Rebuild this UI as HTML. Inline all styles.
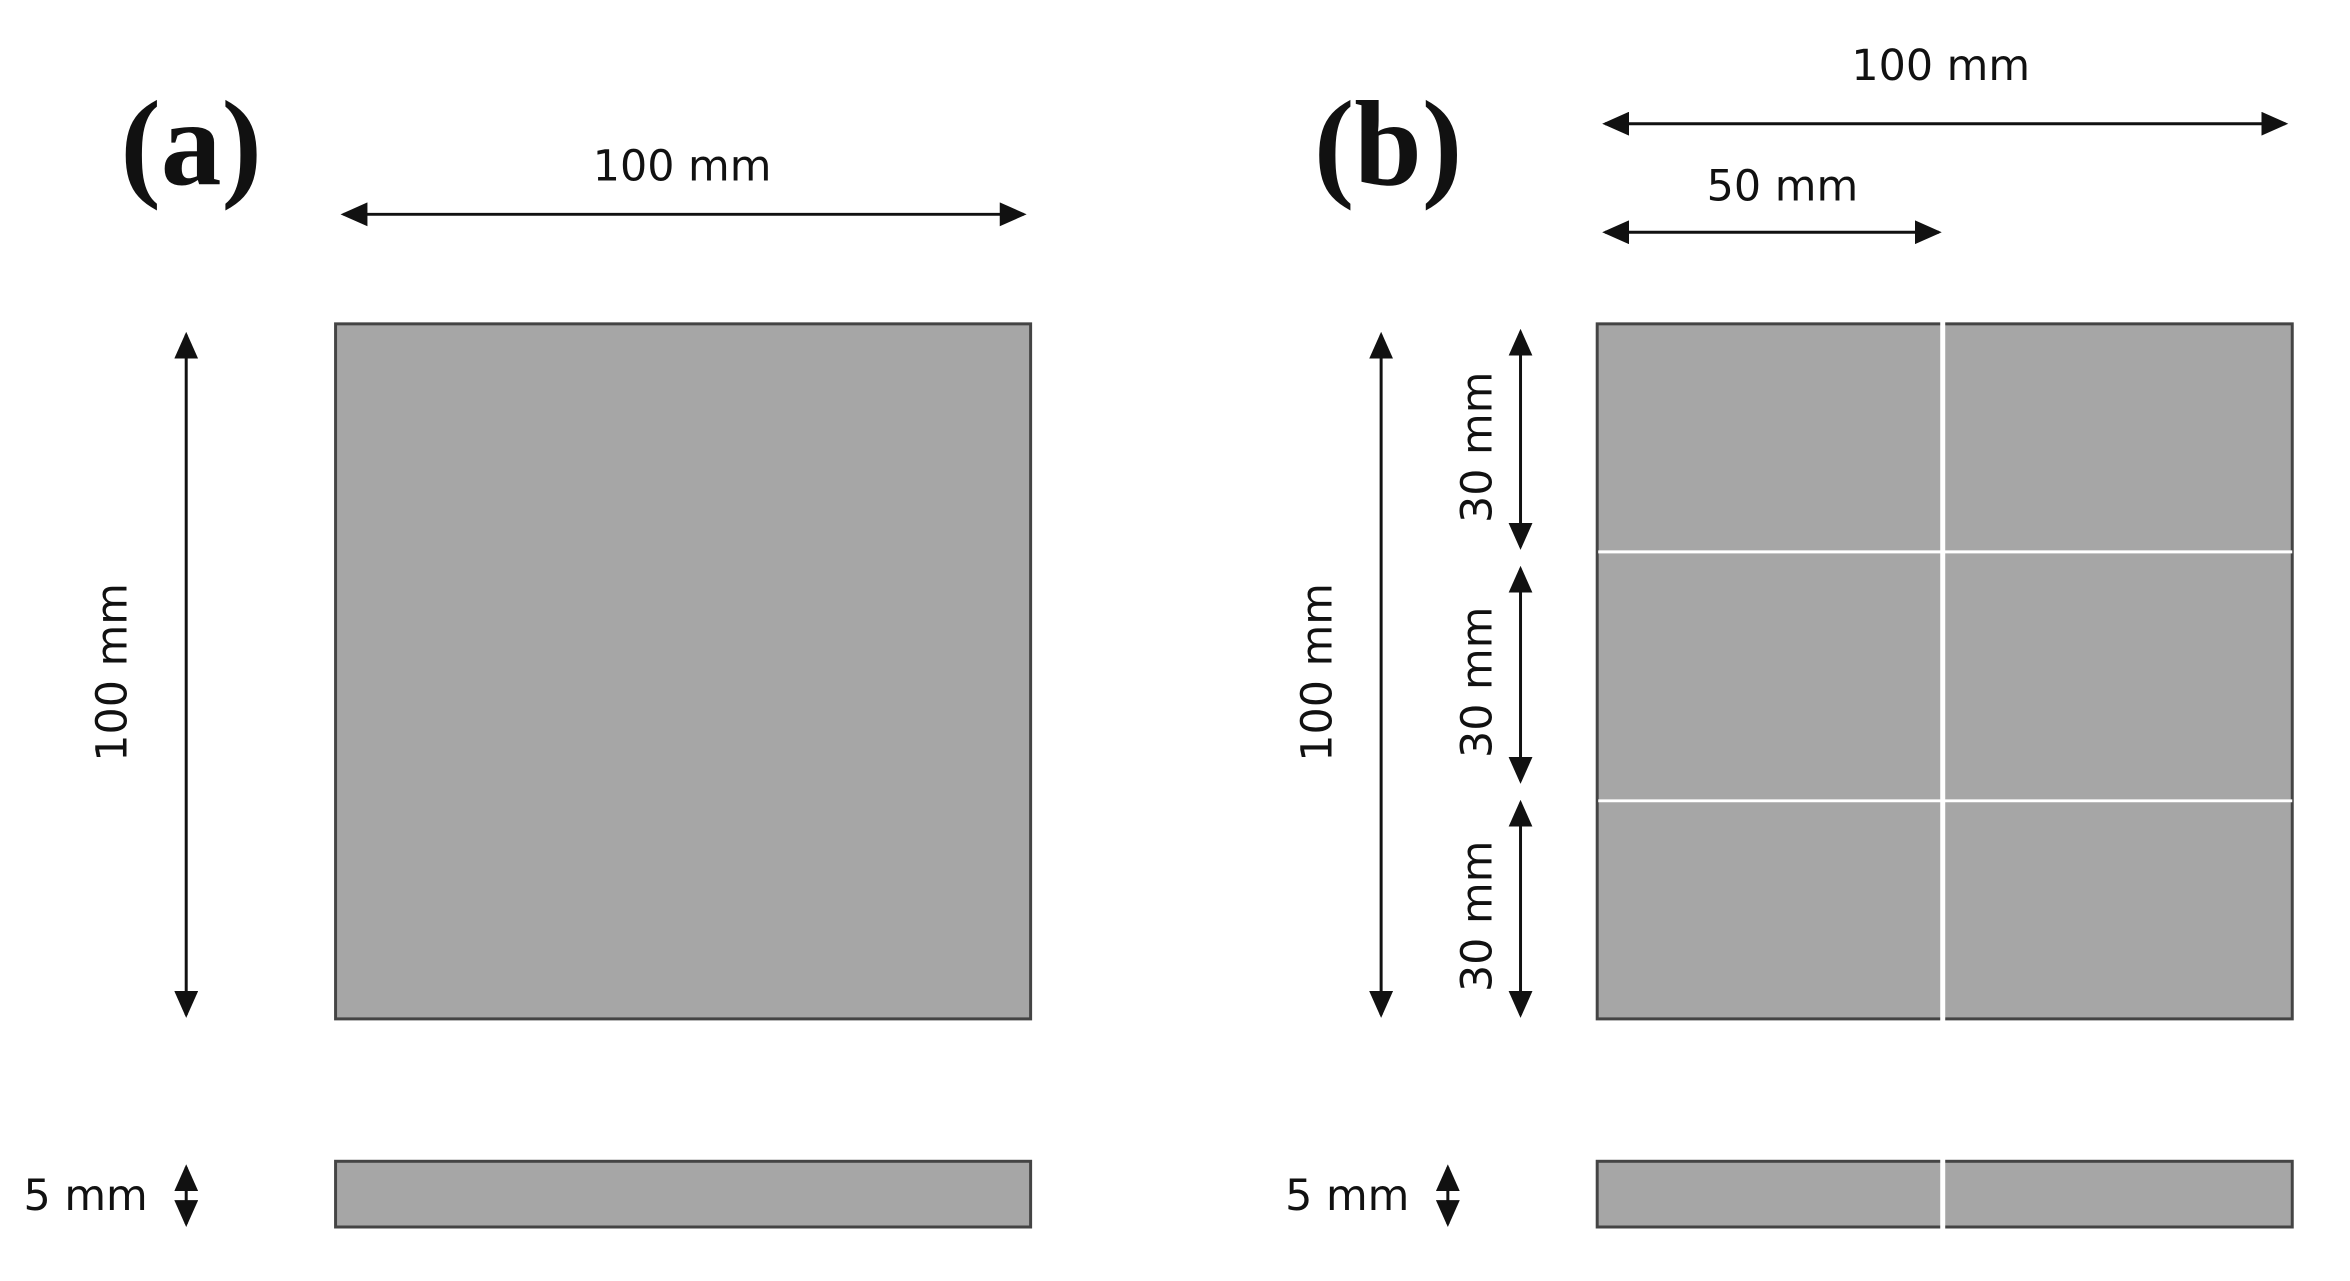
<!DOCTYPE html>
<html><head><meta charset="utf-8"><style>html,body{margin:0;padding:0;background:#fff}svg{display:block}</style></head>
<body>
<svg width="2350" height="1281" viewBox="0 0 2360 1286" xmlns="http://www.w3.org/2000/svg">
<defs>
<marker id="ah" markerWidth="9" markerHeight="8" refX="8" refY="4" orient="auto-start-reverse" markerUnits="strokeWidth">
<path d="M0,0 L9,4 L0,8 z" fill="#111"/>
</marker>
</defs>
<g font-family="'DejaVu Sans', sans-serif" font-size="43" fill="#111" text-anchor="middle">
<!-- (a) -->
<text x="192" y="185" font-family="'Liberation Serif', serif" font-size="122" font-weight="bold">(a)</text>
<rect x="337" y="325" width="698" height="698" fill="#a6a6a6" stroke="#444" stroke-width="3"/>
<rect x="337" y="1166" width="698" height="66" fill="#a6a6a6" stroke="#444" stroke-width="3"/>
<line x1="345" y1="215" x2="1028" y2="215" stroke="#111" stroke-width="3" marker-start="url(#ah)" marker-end="url(#ah)"/>
<text x="685" y="181">100 mm</text>
<line x1="187" y1="336" x2="187" y2="1019" stroke="#111" stroke-width="3" marker-start="url(#ah)" marker-end="url(#ah)"/>
<text transform="translate(127,675) rotate(-90)">100 mm</text>
<text x="86" y="1215">5 mm</text>
<line x1="187" y1="1172" x2="187" y2="1229" stroke="#111" stroke-width="3" marker-start="url(#ah)" marker-end="url(#ah)"/>
<!-- (b) -->
<text x="1394" y="185" font-family="'Liberation Serif', serif" font-size="122" font-weight="bold">(b)</text>
<rect x="1604" y="325" width="698" height="698" fill="#a6a6a6" stroke="#444" stroke-width="3"/>
<rect x="1604" y="1166" width="698" height="66" fill="#a6a6a6" stroke="#444" stroke-width="3"/>
<line x1="1951" y1="323" x2="1951" y2="1025" stroke="#fff" stroke-width="5"/>
<line x1="1951" y1="1164" x2="1951" y2="1234" stroke="#fff" stroke-width="5"/>
<line x1="1605" y1="554" x2="2302" y2="554" stroke="#fff" stroke-width="3"/>
<line x1="1605" y1="804" x2="2302" y2="804" stroke="#fff" stroke-width="3"/>
<line x1="1612" y1="124" x2="2295" y2="124" stroke="#111" stroke-width="3" marker-start="url(#ah)" marker-end="url(#ah)"/>
<text x="1949" y="80">100 mm</text>
<line x1="1612" y1="233" x2="1947" y2="233" stroke="#111" stroke-width="3" marker-start="url(#ah)" marker-end="url(#ah)"/>
<text x="1790" y="201">50 mm</text>
<line x1="1387" y1="336" x2="1387" y2="1019" stroke="#111" stroke-width="3" marker-start="url(#ah)" marker-end="url(#ah)"/>
<text transform="translate(1337,675) rotate(-90)">100 mm</text>
<line x1="1527" y1="333" x2="1527" y2="549" stroke="#111" stroke-width="3" marker-start="url(#ah)" marker-end="url(#ah)"/>
<line x1="1527" y1="571" x2="1527" y2="784" stroke="#111" stroke-width="3" marker-start="url(#ah)" marker-end="url(#ah)"/>
<line x1="1527" y1="806" x2="1527" y2="1019" stroke="#111" stroke-width="3" marker-start="url(#ah)" marker-end="url(#ah)"/>
<text transform="translate(1498,449) rotate(-90)">30 mm</text>
<text transform="translate(1498,685) rotate(-90)">30 mm</text>
<text transform="translate(1498,920) rotate(-90)">30 mm</text>
<text x="1353" y="1215">5 mm</text>
<line x1="1454" y1="1172" x2="1454" y2="1229" stroke="#111" stroke-width="3" marker-start="url(#ah)" marker-end="url(#ah)"/>
</g>
</svg>
</body></html>
